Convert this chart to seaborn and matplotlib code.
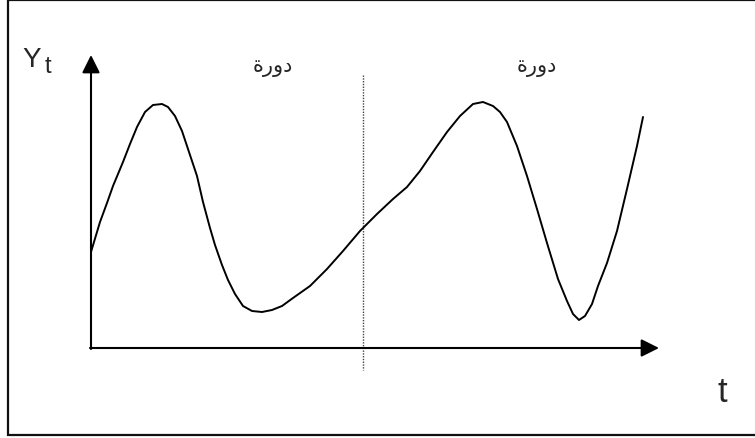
import matplotlib
matplotlib.use("Agg")
import matplotlib.pyplot as plt
import seaborn as sns
import pandas as pd
from matplotlib.patches import Rectangle

sns.set_theme(style="white")
plt.rcParams['font.family'] = ['Liberation Sans', 'DejaVu Sans']

# Curve (pixel-space coordinates of the drawing)
curve_t = [91, 100, 107, 113, 123, 130, 137, 145, 153, 162, 168, 175, 182, 188, 197,
           203, 210, 215, 222, 228, 235, 243, 252, 262, 272, 282, 293, 310, 327, 343,
           360, 377, 393, 407, 420, 433, 447, 460, 473, 483, 493, 500, 507, 517, 527,
           537, 547, 558, 567, 573, 579, 585, 592, 598, 607, 617, 627, 637, 643]
curve_y = [253, 223, 204, 187, 163, 145, 128, 113, 106, 105, 108, 117, 132, 150, 177,
           203, 229, 246, 266, 281, 295, 307, 312, 313, 311, 307, 299, 287, 270, 252,
           232, 215, 200, 188, 172, 153, 133, 117, 105, 103, 107, 113, 123, 147, 177,
           210, 244, 280, 302, 315, 321, 317, 305, 287, 264, 232, 190, 147, 118]

cycle_label = "دورة"
cycle_label_x = [273, 537]
divider_x = 363
y_label = "Y"
y_sub = "t"
x_label = "t"

df = pd.DataFrame({"t": curve_t, "y": curve_y})

fig = plt.figure(figsize=(7.55, 4.39), dpi=100)
ax = fig.add_axes([0, 0, 1, 1])

# border
ax.add_patch(Rectangle((8, 1), 760, 435, fill=False, lw=1.6, edgecolor="#111111"))

# axes arrows
arrow = dict(arrowstyle="-|>,head_length=0.6,head_width=0.3", mutation_scale=18,
             lw=1.5, color="black", shrinkA=0, shrinkB=0)
ax.annotate("", xy=(91, 56), xytext=(91, 350), arrowprops=arrow)
ax.annotate("", xy=(659, 349), xytext=(90, 349), arrowprops=arrow)

# divider
ax.plot([divider_x, divider_x], [76, 371], color="#444444", lw=1.0, linestyle=(0, (1, 1)))

# curve
sns.lineplot(data=df, x="t", y="y", sort=False, estimator=None, color="black",
             lw=1.4, ax=ax)
for ln in ax.get_lines():
    ln.set_solid_joinstyle("round")
    ln.set_solid_capstyle("round")
ax.set_xlim(0, 755)
ax.set_ylim(439, 0)
ax.axis("off")

# labels
ax.text(22, 67, y_label, ha="left", va="baseline", fontsize=20)
ax.text(45, 73, y_sub, ha="left", va="baseline", fontsize=17)
ax.text(718, 402, x_label, ha="left", va="baseline", fontsize=25)
vis = cycle_label[::-1]  # visual left-to-right order (letters are non-joining)
for cx in cycle_label_x:
    ax.text(cx, 72, vis, ha="center", va="baseline", fontsize=15,
            family=["DejaVu Sans"])

fig.savefig("out.png", dpi=100)
